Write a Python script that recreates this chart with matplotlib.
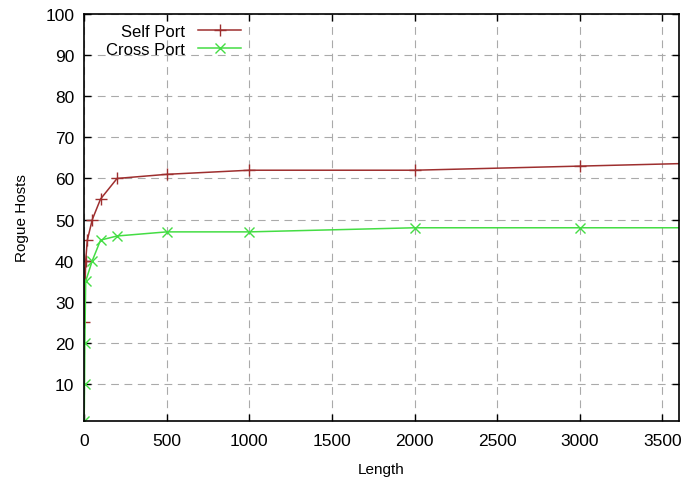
import numpy as np
import matplotlib
matplotlib.use('Agg')
import matplotlib.pyplot as plt

# =============================================================================
# Data
# =============================================================================

self_len = [1, 10, 20, 50, 100, 200, 500, 1000, 2000, 3000, 4000]
self_hosts = [25, 40, 45, 50, 55, 60, 61, 62, 62, 63, 64]

cross_len = [1, 3, 5, 10, 50, 100, 200, 500, 1000, 2000, 3000, 4000]
cross_hosts = [1, 10, 20, 35, 40, 45, 46, 47, 47, 48, 48, 48]

xticks = [0, 500, 1000, 1500, 2000, 2500, 3000, 3500]
yticks = [10, 20, 30, 40, 50, 60, 70, 80, 90, 100]

# =============================================================================
# Plot
# =============================================================================

plt.rcParams['font.family'] = ['Liberation Sans', 'DejaVu Sans']

fig = plt.figure(figsize=(6.91, 4.81), dpi=100)
ax = fig.add_axes([0.1216, 0.1227, 0.861, 0.8461])

ax.plot(self_len, self_hosts, color='#9e2f2f', lw=1.1, marker='+', ms=8,
        mew=1.0, label='Self Port')
ax.plot(cross_len, cross_hosts, color='#44dd44', lw=1.1, marker='x', ms=7,
        mew=1.0, label='Cross Port')

ax.set_xlim(0, 3600)
ax.set_ylim(1, 100)
ax.set_xticks(xticks)
ax.set_yticks(yticks)
ax.tick_params(direction='in', top=True, right=True, length=5, width=1,
               labelsize=12.5)
ax.tick_params(axis='x', pad=9)
ax.tick_params(axis='y', pad=7)
ax.grid(True, color='#aaaaaa', ls=(0, (7, 5)), lw=0.8)
for s in ax.spines.values():
    s.set_linewidth(1.2)

ax.set_xlabel('Length', fontsize=11, labelpad=10)
ax.set_ylabel('Rogue Hosts', fontsize=11, labelpad=12)

ax.legend(loc='upper left', frameon=False, markerfirst=False, fontsize=12,
          handlelength=2.6, borderaxespad=0.2, labelspacing=0.15,
          bbox_to_anchor=(0.02, 1.0))

fig.savefig('out.png', dpi=100)
